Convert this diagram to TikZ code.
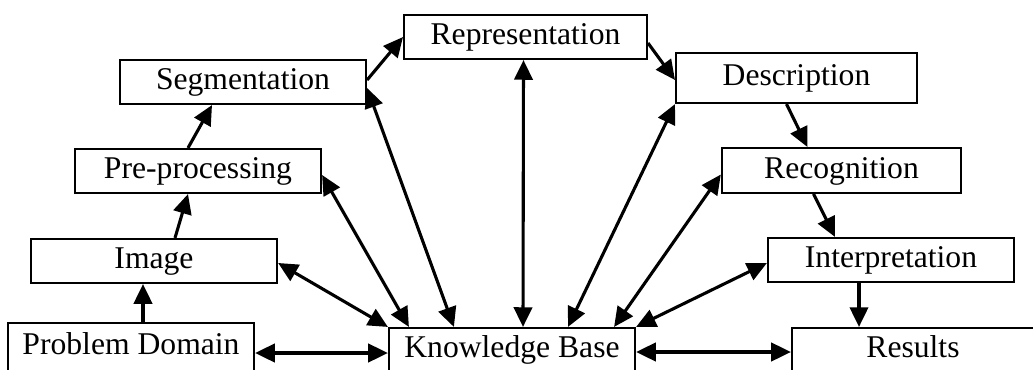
\documentclass[tikz,border=0pt]{standalone}
\usepackage{fontspec}
\setmainfont{Liberation Serif}
\usetikzlibrary{arrows.meta}
\begin{document}
\begin{tikzpicture}[x=0.025cm, y=-0.025cm,
box_style/.style={rectangle,draw=black,line width=1.5pt,fill=white,inner sep=0pt,minimum width=6.15cm,minimum height=1.1cm,text height=14.6pt,text depth=3.5pt,font=\fontsize{22.5}{26}\selectfont},
edge_style/.style={draw=black,line width=2.2pt,-{Triangle[length=14pt,width=13pt]}},
both_style/.style={draw=black,line width=2.2pt,{Triangle[length=14pt,width=13pt]}-{Triangle[length=14pt,width=13pt]}}]
\useasboundingbox (0,0) rectangle (1033,369);
\node[box_style,minimum height=1.2cm] (pd) at (131,347) {Problem Domain};
\node[box_style] (img) at (154,261) {Image};
\node[box_style] (pre) at (198,171) {Pre-processing};
\node[box_style] (seg) at (243,82) {Segmentation};
\node[box_style,minimum width=6.07cm] (rep) at (525.5,37) {Representation};
\node[box_style,minimum width=6.02cm,minimum height=1.25cm] (des) at (796.5,78) {Description};
\node[box_style,minimum width=5.98cm,minimum height=1.12cm] (rec) at (841.5,170.5) {Recognition};
\node[box_style] (int) at (891,260) {Interpretation};
\node[box_style] (kb) at (512,350) {Knowledge Base};
\node[box_style,minimum width=6.05cm] (res) at (913,350) {Results};

% main chain
\draw[edge_style] ([shift={(12,0)}]pd.north) -- ([shift={(-11,0)}]img.south);
\draw[edge_style] ([shift={(21,0)}]img.north) -- ([shift={(-10,0)}]pre.south);
\draw[edge_style] ([shift={(-10,0)}]pre.north) -- ([shift={(-31,0)}]seg.south);
\draw[edge_style] ([shift={(0,-2)}]seg.east) -- (rep.west);
\draw[edge_style] ([shift={(0,6)}]rep.east) -- ([shift={(0,2)}]des.west);
\draw[edge_style] ([shift={(-10,0)}]des.south) -- ([shift={(-34,0)}]rec.north);
\draw[edge_style] ([shift={(-28,0)}]rec.south) -- ([shift={(-56,0)}]int.north);
\draw[edge_style] ([shift={(-32,0)}]int.south) -- ([shift={(-54,0)}]res.north);

% knowledge base links
\draw[both_style] ([shift={(0,6)}]pd.east) -- ([shift={(0,3)}]kb.west);
\draw[both_style] ([shift={(0,2)}]kb.east) -- ([shift={(0,2)}]res.west);
\draw[both_style] ([shift={(0,2)}]img.east) -- (kb.north west);
\draw[both_style] ([shift={(0,4)}]pre.east) -- ([shift={(21,0)}]kb.north west);
\draw[both_style] ([shift={(0,6)}]seg.east) -- ([shift={(66,0)}]kb.north west);
\draw[both_style] ([shift={(-2,0)}]rep.south) -- ([shift={(11,0)}]kb.north);
\draw[both_style] (des.south west) -- ([shift={(56,0)}]kb.north);
\draw[both_style] ([shift={(0,4)}]rec.west) -- ([shift={(-22,0)}]kb.north east);
\draw[both_style] ([shift={(0,3)}]int.west) -- (kb.north east);
\end{tikzpicture}
\end{document}
